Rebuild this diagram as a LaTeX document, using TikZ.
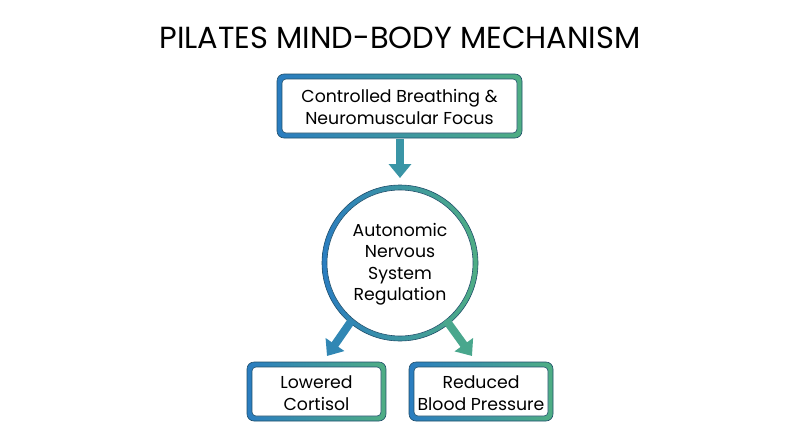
\documentclass[tikz,border=0pt]{standalone}
\usepackage{fontspec}
\setmainfont{Poppins}
\usetikzlibrary{arrows.meta,calc}
\definecolor{bl}{HTML}{2A7DC0}
\definecolor{gr}{HTML}{4FAE84}
\definecolor{dk}{HTML}{1F4E6A}
\definecolor{mid}{HTML}{3A95A6}
\begin{document}
\begin{tikzpicture}[x=1pt,y=-1pt,
  lbl/.style={font=\fontsize{17.3}{21.5}\selectfont, align=center, text=black},
  arr/.style={line width=8pt, -{Triangle[width=22pt,length=14pt]}}]
\useasboundingbox (0,0) rectangle (800,447);
\node[font=\fontsize{30.5}{34}\selectfont] (title) at (400,38) {PILATES MIND-BODY MECHANISM};
\newcommand{\gbox}[4]{%
 \shade[left color=bl,right color=gr,draw=dk,line width=0.6pt,rounded corners=7pt] (#1,#2) rectangle (#3,#4);
 \fill[white,draw=dk,line width=0.6pt,rounded corners=4pt] ($(#1,#2)+(5,5)$) rectangle ($(#3,#4)+(-5,-5)$);}
\gbox{277}{74}{522}{138}
\gbox{247}{362}{386}{421}
\gbox{409}{362}{553}{421}
\shade[left color=bl,right color=gr,draw=dk,line width=0.6pt] (400,263) circle (78);
\fill[white,draw=dk,line width=0.6pt] (400,263) circle (73);
\node[lbl] (top) at (399.5,107) {Controlled Breathing \&\\Neuromuscular Focus};
\node[lbl] (ans) at (400,264) {Autonomic\\Nervous\\System\\Regulation};
\node[lbl] (cort) at (316.5,393) {Lowered\\Cortisol};
\node[lbl] (bp) at (481,393) {Reduced\\Blood Pressure};
\coordinate (a1) at (400,139); \coordinate (a2) at (400,178);
\coordinate (l1) at (352,320); \coordinate (l2) at (327,356);
\coordinate (r1) at (446,320); \coordinate (r2) at (472,356);
\draw[arr,mid] (a1) -- (a2);
\draw[arr,bl!80!gr] (l1) -- (l2);
\draw[arr,gr!85!bl] (r1) -- (r2);
\end{tikzpicture}
\end{document}
